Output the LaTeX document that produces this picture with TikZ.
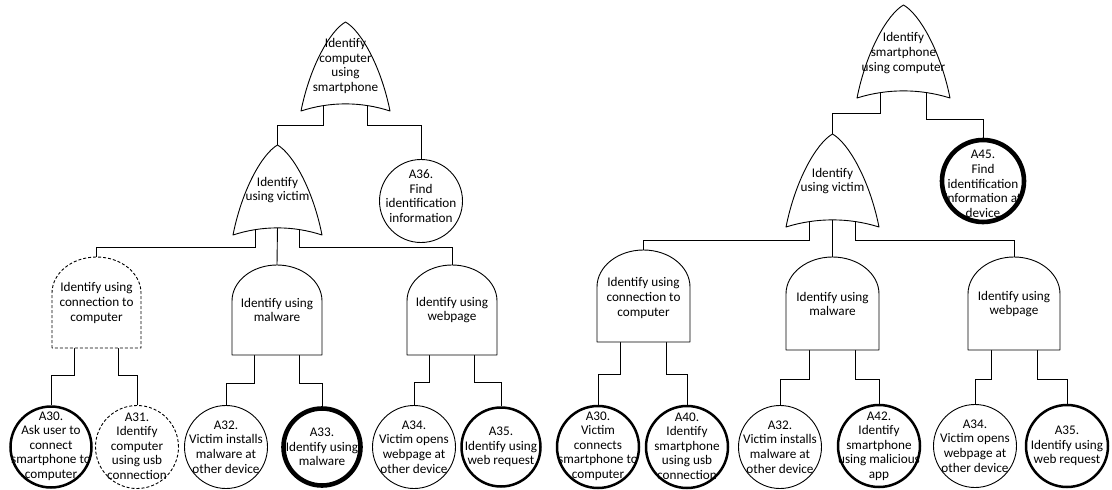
\documentclass[tikz,border=0pt]{standalone}
\usepackage{fontspec}
\setmainfont{Carlito}
\pgfdeclarelayer{wires}
\pgfsetlayers{wires,main}
\tikzset{
  gate/.style={draw=black, fill=white, line width=0.9pt, line join=round},
  wire/.style={draw=black, line width=0.9pt},
  leaf/.style={circle, draw=black, fill=white, line width=0.9pt, minimum size=83pt, inner sep=0pt},
  bold/.style={line width=2.5pt},
  heavy/.style={line width=4.6pt},
  dashedline/.style={dash pattern=on 3pt off 2pt},
  txt/.style={align=center, inner sep=0pt, font=\fontsize{13.2}{14.6}\selectfont},
  % OR gate: #1 half width, #2 height, #3/#4 drop of the left/right output bus
  pics/orgate/.style n args={4}{code={
    \coordinate (-apex) at (0,-#2);
    \coordinate (-l) at ({-#1/2},-9);
    \coordinate (-m) at (0,-9);
    \coordinate (-r) at ({#1/2},-9);
    \coordinate (-busl) at (0,#3);
    \coordinate (-busr) at (0,#4);
    \path[gate,pic actions] (-#1,0)
      .. controls ({-0.8*#1},{-0.5*#2}) and ({-0.35*#1},{-0.9*#2}) .. (0,-#2)
      .. controls ({0.35*#1},{-0.9*#2}) and ({0.8*#1},{-0.5*#2}) .. (#1,0)
      .. controls ({0.35*#1},-9.5) and ({-0.35*#1},-9.5) .. cycle;
  }},
  % AND gate: #1 half width, #2 height, #3 dome height, #4 drop of the output bus
  pics/andgate/.style n args={4}{code={
    \coordinate (-top) at (0,-#2);
    \coordinate (-l) at ({-#1/2},-2);
    \coordinate (-r) at ({#1/2},-2);
    \coordinate (-bus) at (0,#4);
    \path[gate,pic actions] (-#1,0) -- (-#1,{-(#2-#3)})
      .. controls (-#1,{-(#2-#3)-0.552*#3}) and ({-0.552*#1},-#2) .. (0,-#2)
      .. controls ({0.552*#1},-#2) and (#1,{-(#2-#3)-0.552*#3}) .. (#1,{-(#2-#3)})
      -- (#1,0) -- cycle;
  }}
}
\begin{document}
\begin{tikzpicture}[x=1pt,y=-1pt]
\useasboundingbox (0,0) rectangle (1112,490);

% ---------- left tree: gates ----------
\pic (or1) at (345.5,111) {orgate={44.5}{89}{14}{14}};
\node[txt] (or1t) at (345.5,66) {Identify\\computer\\using\\smartphone};
\pic (or2) at (277.5,235) {orgate={44.5}{90}{12}{12}};
\node[txt] (or2t) at (277.5,190) {Identify\\using victim};
\pic[dashedline] (and1) at (96.5,348) {andgate={44.5}{91}{36}{27}};
\node[txt] (and1t) at (96.5,303) {Identify using\\connection to\\computer};
\pic (and2) at (277,355) {andgate={45}{90}{36}{28}};
\node[txt] (and2t) at (277,310) {Identify using\\malware};
\pic (and3) at (452,355) {andgate={45}{90}{36}{27}};
\node[txt] (and3t) at (452,310) {Identify using\\webpage};

% ---------- left tree: basic events ----------
\node[leaf] (a36) at (421,201) {};
\node[txt] (a36t) at (421,196) {A36.\\Find\\identification\\information};
\node[leaf,bold,minimum size=81pt] (a30l) at (51,447) {};
\node[txt] (a30lt) at (51,446) {A30.\\Ask user to\\connect\\smartphone to\\computer};
\node[leaf,dashedline] (a31) at (137,447) {};
\node[txt] (a31t) at (137,446) {A31.\\Identify\\computer\\using usb\\connection};
\node[leaf] (a32l) at (226,447) {};
\node[txt] (a32lt) at (226,447) {A32.\\Victim installs\\malware at\\other device};
\node[leaf,heavy,minimum size=77pt] (a33) at (322,447) {};
\node[txt] (a33t) at (322,447) {A33.\\Identify using\\malware};
\node[leaf] (a34l) at (414,447) {};
\node[txt] (a34lt) at (414,447) {A34.\\Victim opens\\webpage at\\other device};
\node[leaf,bold,minimum size=79pt] (a35l) at (501,447) {};
\node[txt] (a35lt) at (501,447) {A35.\\Identify using\\web request};

% ---------- right tree: gates ----------
\pic (or3) at (903.5,98) {orgate={46.5}{93}{15}{21}};
\node[txt] (or3t) at (903.5,53) {Identify\\smartphone\\using computer};
\pic (or4) at (832.5,227) {orgate={46.5}{93}{13}{13}};
\node[txt] (or4t) at (832.5,181) {Identify\\using victim};
\pic[bold] (and4) at (643.5,342) {andgate={46.5}{92}{37}{32}};
\node[txt] (and4t) at (643.5,298) {Identify using\\connection to\\computer};
\pic (and5) at (832.5,350) {andgate={46.5}{93}{37}{29}};
\node[txt] (and5t) at (832.5,304) {Identify using\\malware};
\pic (and6) at (1014,350) {andgate={46}{93}{37}{29}};
\node[txt] (and6t) at (1014,304) {Identify using\\webpage};

% ---------- right tree: basic events ----------
\node[leaf,heavy,minimum size=82pt] (a45) at (983,181) {};
\node[txt] (a45t) at (983,184) {A45.\\Find\\identification\\information at\\device};
\node[leaf,bold,minimum size=82pt] (a30r) at (598,447) {};
\node[txt] (a30rt) at (598,446) {A30.\\Victim\\connects\\smartphone to\\computer};
\node[leaf,bold,minimum size=82pt] (a40) at (687,447) {};
\node[txt] (a40t) at (687,446) {A40.\\Identify\\smartphone\\using usb\\connection};
\node[leaf] (a32r) at (780,447) {};
\node[txt] (a32rt) at (780,447) {A32.\\Victim installs\\malware at\\other device};
\node[leaf,bold,minimum size=82pt] (a42) at (879,446) {};
\node[txt] (a42t) at (879,446) {A42.\\Identify\\smartphone\\using malicious\\app};
\node[leaf] (a34r) at (975,446) {};
\node[txt] (a34rt) at (975,446) {A34.\\Victim opens\\webpage at\\other device};
\node[leaf,bold,minimum size=82pt] (a35r) at (1067,446) {};
\node[txt] (a35rt) at (1067,446) {A35.\\Identify using\\web request};

% ---------- connectors, kept under the shapes ----------
\begin{pgfonlayer}{wires}
  % left tree
  \draw[wire] (or1-l) |- (or2-apex |- or1-busl) -- (or2-apex);
  \draw[wire] (or1-r) |- (a36.north |- or1-busr) -- (a36.north);
  \draw[wire] (or2-l) |- (and1-top |- or2-busl) -- (and1-top);
  \draw[wire] (or2-m) -- (and2-top);
  \draw[wire] (or2-r) |- (and3-top |- or2-busr) -- (and3-top);
  \draw[wire] (and1-l) |- (a30l.north |- and1-bus) -- (a30l.north);
  \draw[wire] (and1-r) |- (a31.north |- and1-bus) -- (a31.north);
  \draw[wire] (and2-l) |- (a32l.north |- and2-bus) -- (a32l.north);
  \draw[wire] (and2-r) |- (a33.north |- and2-bus) -- (a33.north);
  \draw[wire] (and3-l) |- (a34l.north |- and3-bus) -- (a34l.north);
  \draw[wire] (and3-r) |- (a35l.north |- and3-bus) -- (a35l.north);
  % right tree
  \draw[wire] (or3-l) |- (or4-apex |- or3-busl) -- (or4-apex);
  \draw[wire] (or3-r) |- (a45.north |- or3-busr) -- (a45.north);
  \draw[wire] (or4-l) |- (and4-top |- or4-busl) -- (and4-top);
  \draw[wire] (or4-m) -- (and5-top);
  \draw[wire] (or4-r) |- (and6-top |- or4-busr) -- (and6-top);
  \draw[wire] (and4-l) |- (a30r.north |- and4-bus) -- (a30r.north);
  \draw[wire] (and4-r) |- (a40.north |- and4-bus) -- (a40.north);
  \draw[wire] (and5-l) |- (a32r.north |- and5-bus) -- (a32r.north);
  \draw[wire] (and5-r) |- (a42.north |- and5-bus) -- (a42.north);
  \draw[wire] (and6-l) |- (a34r.north |- and6-bus) -- (a34r.north);
  \draw[wire] (and6-r) |- (a35r.north |- and6-bus) -- (a35r.north);
\end{pgfonlayer}
\end{tikzpicture}
\end{document}
